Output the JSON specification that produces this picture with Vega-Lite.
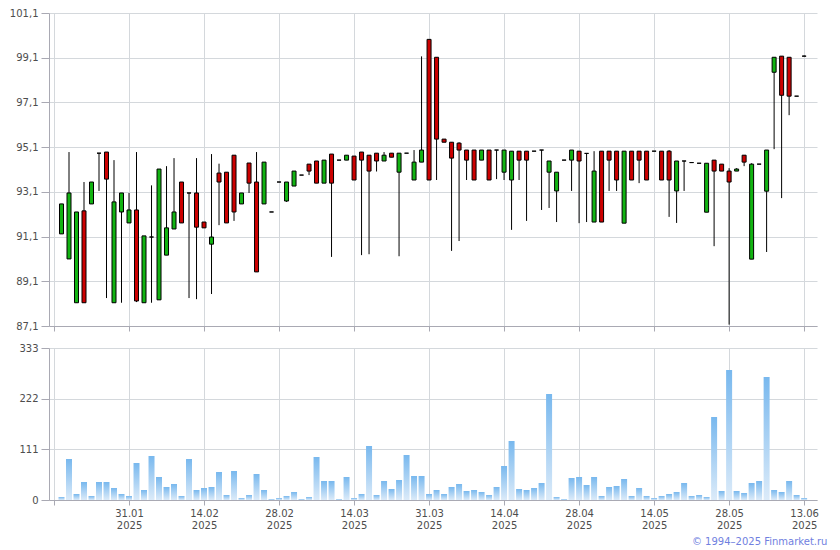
{
  "$schema": "https://vega.github.io/schema/vega-lite/v6.json",
  "padding": {"left": 1, "top": 8, "right": 5, "bottom": 5},
  "background": "white",
  "config": {
    "view": {"stroke": null},
    "font": "DejaVu Sans",
    "axis": {
      "title": null,
      "gridColor": "#d4d8dc",
      "gridWidth": 1,
      "domainColor": "#a9a9b3",
      "tickColor": "#a9a9b3",
      "labelColor": "#4d4d4d",
      "labelFont": "DejaVu Sans",
      "labelFontSize": 10,
      "labelOverlap": false,
      "labelFlush": false
    },
    "axisY": {"minExtent": 48, "maxExtent": 48, "tickSize": 8, "labelPadding": 3}
  },
  "data": {
    "values": [
      {"n": 1, "o": 91.22, "h": 92.56, "l": 91.22, "c": 92.56, "v": 6.6},
      {"n": 2, "o": 90.1, "h": 94.88, "l": 90.1, "c": 93.05, "v": 89.8},
      {"n": 3, "o": 88.14, "h": 92.2, "l": 88.14, "c": 92.2, "v": 13.1},
      {"n": 4, "o": 92.25, "h": 93.54, "l": 88.14, "c": 88.14, "v": 39.4},
      {"n": 5, "o": 92.56, "h": 93.54, "l": 92.56, "c": 93.54, "v": 8.8},
      {"n": 6, "o": 94.83, "h": 94.83, "l": 93.14, "c": 94.83, "v": 39.4},
      {"n": 7, "o": 94.88, "h": 94.88, "l": 88.35, "c": 93.67, "v": 39.4},
      {"n": 8, "o": 88.14, "h": 94.52, "l": 88.14, "c": 92.65, "v": 26.3},
      {"n": 9, "o": 92.2, "h": 93.05, "l": 88.14, "c": 93.05, "v": 13.1},
      {"n": 10, "o": 91.71, "h": 93.05, "l": 91.71, "c": 92.29, "v": 8.8},
      {"n": 11, "o": 92.29, "h": 94.88, "l": 88.17, "c": 88.22, "v": 81.1},
      {"n": 12, "o": 88.14, "h": 91.13, "l": 88.14, "c": 91.13, "v": 21.9},
      {"n": 13, "o": 91.08, "h": 93.39, "l": 88.14, "c": 91.08, "v": 96.4},
      {"n": 14, "o": 88.27, "h": 94.12, "l": 88.27, "c": 94.12, "v": 50.4},
      {"n": 15, "o": 90.27, "h": 94.25, "l": 90.27, "c": 91.49, "v": 28.5},
      {"n": 16, "o": 91.44, "h": 94.61, "l": 91.44, "c": 92.2, "v": 35.1},
      {"n": 17, "o": 93.54, "h": 93.54, "l": 91.71, "c": 91.71, "v": 8.8},
      {"n": 18, "o": 93.05, "h": 93.05, "l": 88.35, "c": 93.05, "v": 89.8},
      {"n": 19, "o": 93.05, "h": 94.61, "l": 88.3, "c": 91.52, "v": 21.9},
      {"n": 20, "o": 91.75, "h": 91.75, "l": 91.49, "c": 91.49, "v": 26.3},
      {"n": 21, "o": 90.76, "h": 94.79, "l": 88.53, "c": 91.08, "v": 28.5},
      {"n": 22, "o": 93.94, "h": 94.36, "l": 91.61, "c": 93.54, "v": 61.3},
      {"n": 23, "o": 93.98, "h": 93.98, "l": 91.71, "c": 91.71, "v": 11.0},
      {"n": 24, "o": 94.74, "h": 94.74, "l": 91.8, "c": 92.2, "v": 63.5},
      {"n": 25, "o": 92.56, "h": 93.05, "l": 92.56, "c": 93.05, "v": 4.4},
      {"n": 26, "o": 94.39, "h": 94.39, "l": 93.05, "c": 93.49, "v": 11.0},
      {"n": 27, "o": 93.54, "h": 94.88, "l": 89.52, "c": 89.52, "v": 57.0},
      {"n": 28, "o": 92.56, "h": 94.43, "l": 92.56, "c": 94.43, "v": 21.9},
      {"n": 29, "o": 92.2, "h": 92.2, "l": 92.2, "c": 92.2, "v": 2.2},
      {"n": 30, "o": 93.54, "h": 93.54, "l": 93.54, "c": 93.54, "v": 4.4},
      {"n": 31, "o": 92.69, "h": 93.54, "l": 92.65, "c": 93.54, "v": 8.8},
      {"n": 32, "o": 93.36, "h": 94.03, "l": 93.36, "c": 94.03, "v": 17.5},
      {"n": 33, "o": 93.85, "h": 93.85, "l": 93.85, "c": 93.85, "v": 2.2},
      {"n": 34, "o": 94.34, "h": 94.34, "l": 93.85, "c": 94.03, "v": 6.6},
      {"n": 35, "o": 94.48, "h": 94.48, "l": 93.49, "c": 93.49, "v": 94.2},
      {"n": 36, "o": 93.49, "h": 94.52, "l": 93.49, "c": 94.52, "v": 41.6},
      {"n": 37, "o": 94.79, "h": 94.79, "l": 90.19, "c": 93.49, "v": 41.6},
      {"n": 38, "o": 94.52, "h": 94.52, "l": 94.52, "c": 94.52, "v": 2.2},
      {"n": 39, "o": 94.52, "h": 94.74, "l": 94.52, "c": 94.74, "v": 50.4},
      {"n": 40, "o": 94.7, "h": 94.7, "l": 93.63, "c": 93.63, "v": 4.4},
      {"n": 41, "o": 94.88, "h": 94.88, "l": 90.27, "c": 94.52, "v": 13.1},
      {"n": 42, "o": 94.74, "h": 94.74, "l": 90.31, "c": 94.03, "v": 118.3},
      {"n": 43, "o": 94.83, "h": 94.83, "l": 94.01, "c": 94.48, "v": 11.0},
      {"n": 44, "o": 94.48, "h": 94.88, "l": 94.48, "c": 94.74, "v": 41.6},
      {"n": 45, "o": 94.83, "h": 94.83, "l": 94.65, "c": 94.65, "v": 24.1},
      {"n": 46, "o": 93.98, "h": 94.83, "l": 90.22, "c": 94.83, "v": 43.8},
      {"n": 47, "o": 94.83, "h": 94.83, "l": 94.83, "c": 94.83, "v": 98.6},
      {"n": 48, "o": 93.63, "h": 94.97, "l": 93.63, "c": 94.43, "v": 52.6},
      {"n": 49, "o": 94.43, "h": 99.16, "l": 94.43, "c": 94.97, "v": 52.6},
      {"n": 50, "o": 99.92, "h": 99.92, "l": 93.63, "c": 93.63, "v": 13.1},
      {"n": 51, "o": 99.12, "h": 99.12, "l": 93.63, "c": 95.46, "v": 21.9},
      {"n": 52, "o": 95.46, "h": 95.46, "l": 95.32, "c": 95.32, "v": 13.1},
      {"n": 53, "o": 95.32, "h": 95.32, "l": 90.46, "c": 94.61, "v": 28.5},
      {"n": 54, "o": 95.28, "h": 95.32, "l": 90.9, "c": 94.97, "v": 35.1},
      {"n": 55, "o": 94.97, "h": 94.97, "l": 93.63, "c": 94.52, "v": 19.7},
      {"n": 56, "o": 94.97, "h": 94.97, "l": 93.63, "c": 93.63, "v": 21.9},
      {"n": 57, "o": 94.52, "h": 94.97, "l": 94.52, "c": 94.97, "v": 17.5},
      {"n": 58, "o": 94.97, "h": 94.97, "l": 93.63, "c": 93.63, "v": 11.0},
      {"n": 59, "o": 94.97, "h": 94.97, "l": 93.67, "c": 94.97, "v": 28.5},
      {"n": 60, "o": 93.98, "h": 94.97, "l": 93.63, "c": 94.97, "v": 74.5},
      {"n": 61, "o": 93.63, "h": 94.92, "l": 91.4, "c": 94.92, "v": 129.3},
      {"n": 62, "o": 94.92, "h": 94.92, "l": 93.63, "c": 94.52, "v": 24.1},
      {"n": 63, "o": 94.92, "h": 94.92, "l": 91.8, "c": 94.52, "v": 21.9},
      {"n": 64, "o": 94.92, "h": 94.92, "l": 94.92, "c": 94.92, "v": 26.3},
      {"n": 65, "o": 94.97, "h": 94.97, "l": 92.29, "c": 94.97, "v": 37.2},
      {"n": 66, "o": 93.98, "h": 94.48, "l": 92.38, "c": 94.48, "v": 232.2},
      {"n": 67, "o": 93.14, "h": 93.98, "l": 91.75, "c": 93.98, "v": 6.6},
      {"n": 68, "o": 94.52, "h": 94.52, "l": 94.52, "c": 94.52, "v": 2.2},
      {"n": 69, "o": 94.52, "h": 94.97, "l": 93.14, "c": 94.97, "v": 48.2},
      {"n": 70, "o": 94.92, "h": 94.92, "l": 91.7, "c": 94.48, "v": 50.4},
      {"n": 71, "o": 94.82, "h": 94.82, "l": 91.75, "c": 94.82, "v": 32.9},
      {"n": 72, "o": 91.75, "h": 94.92, "l": 91.75, "c": 94.03, "v": 50.4},
      {"n": 73, "o": 94.92, "h": 94.92, "l": 91.75, "c": 91.75, "v": 8.8},
      {"n": 74, "o": 94.92, "h": 94.92, "l": 93.14, "c": 94.52, "v": 28.5},
      {"n": 75, "o": 94.92, "h": 94.92, "l": 93.14, "c": 93.63, "v": 30.7},
      {"n": 76, "o": 91.7, "h": 94.92, "l": 91.7, "c": 94.92, "v": 46.0},
      {"n": 77, "o": 94.92, "h": 94.92, "l": 93.63, "c": 93.63, "v": 8.8},
      {"n": 78, "o": 94.92, "h": 94.92, "l": 93.49, "c": 94.52, "v": 26.3},
      {"n": 79, "o": 94.92, "h": 94.92, "l": 93.63, "c": 93.63, "v": 8.8},
      {"n": 80, "o": 94.92, "h": 94.92, "l": 94.92, "c": 94.92, "v": 4.4},
      {"n": 81, "o": 94.92, "h": 94.92, "l": 93.63, "c": 93.63, "v": 8.8},
      {"n": 82, "o": 94.92, "h": 94.97, "l": 91.98, "c": 93.63, "v": 13.1},
      {"n": 83, "o": 93.14, "h": 94.48, "l": 91.71, "c": 94.48, "v": 17.5},
      {"n": 84, "o": 94.48, "h": 94.48, "l": 93.14, "c": 94.48, "v": 37.2},
      {"n": 85, "o": 94.41, "h": 94.43, "l": 94.41, "c": 94.41, "v": 8.8},
      {"n": 86, "o": 94.38, "h": 94.38, "l": 94.38, "c": 94.38, "v": 11.0},
      {"n": 87, "o": 92.19, "h": 94.38, "l": 92.19, "c": 94.38, "v": 6.6},
      {"n": 88, "o": 94.52, "h": 94.52, "l": 90.67, "c": 94.03, "v": 181.8},
      {"n": 89, "o": 94.34, "h": 94.34, "l": 94.03, "c": 94.03, "v": 19.7},
      {"n": 90, "o": 94.03, "h": 94.16, "l": 87.16, "c": 93.54, "v": 284.8},
      {"n": 91, "o": 94.03, "h": 94.16, "l": 94.03, "c": 94.12, "v": 19.7},
      {"n": 92, "o": 94.74, "h": 94.74, "l": 94.25, "c": 94.43, "v": 15.3},
      {"n": 93, "o": 90.09, "h": 94.38, "l": 90.09, "c": 94.34, "v": 37.2},
      {"n": 94, "o": 94.34, "h": 94.34, "l": 94.34, "c": 94.34, "v": 41.6},
      {"n": 95, "o": 93.13, "h": 94.97, "l": 90.41, "c": 94.97, "v": 269.5},
      {"n": 96, "o": 98.45, "h": 99.12, "l": 95.01, "c": 99.12, "v": 21.9},
      {"n": 97, "o": 99.17, "h": 99.17, "l": 92.82, "c": 97.42, "v": 17.5},
      {"n": 98, "o": 99.12, "h": 99.12, "l": 96.53, "c": 97.38, "v": 41.6},
      {"n": 99, "o": 97.38, "h": 97.38, "l": 97.38, "c": 97.38, "v": 11.0},
      {"n": 100, "o": 99.17, "h": 99.2, "l": 99.17, "c": 99.17, "v": 4.4}
    ]
  },
  "spacing": 11,
  "title": {
    "text": "© 1994–2025 Finmarket.ru",
    "orient": "bottom",
    "anchor": "end",
    "font": "DejaVu Sans",
    "fontSize": 10,
    "fontWeight": "normal",
    "color": "#7080e0",
    "offset": 7,
    "dx": 9
  },
  "vconcat": [
    {
      "width": 768,
      "height": 313,
      "encoding": {
        "x": {
          "field": "n",
          "type": "quantitative",
          "scale": {"domain": [0, 101.05], "nice": false, "zero": false},
          "axis": {"values": [0, 10, 20, 30, 40, 50, 60, 70, 80, 90, 100], "labels": false, "tickSize": 5, "grid": true}
        }
      },
      "layer": [
        {
          "mark": {"type": "rule", "color": "black", "strokeWidth": 1},
          "encoding": {
            "y": {
              "field": "l",
              "type": "quantitative",
              "scale": {"domain": [87.1, 101.1], "nice": false, "zero": false},
              "axis": {
                "values": [87.1, 89.1, 91.1, 93.1, 95.1, 97.1, 99.1, 101.1],
                "labelExpr": "replace(format(datum.value, '.1f'), '.', ',')",
                "grid": true
              }
            },
            "y2": {"field": "h"}
          }
        },
        {
          "mark": {"type": "bar", "width": 4, "stroke": "black", "strokeWidth": 1},
          "encoding": {
            "y": {"field": "o", "type": "quantitative"},
            "y2": {"field": "c"},
            "fill": {
              "condition": {"test": "datum.c >= datum.o", "value": "#12b312"},
              "value": "#cc0000"
            }
          }
        }
      ]
    },
    {
      "width": 768,
      "height": 152,
      "mark": {
        "type": "bar",
        "width": 6,
        "color": {
          "gradient": "linear",
          "x1": 0, "y1": 0, "x2": 0, "y2": 1,
          "stops": [
            {"offset": 0, "color": "#78b8ee"},
            {"offset": 1, "color": "#dcebf9"}
          ]
        }
      },
      "encoding": {
        "x": {
          "field": "n",
          "type": "quantitative",
          "scale": {"domain": [0, 101.05], "nice": false, "zero": false},
          "axis": {
            "values": [0, 10, 20, 30, 40, 50, 60, 70, 80, 90, 100],
            "tickSize": 5,
            "grid": true,
            "labelPadding": 3,
            "labelExpr": "datum.value == 0 ? '' : [['31.01','14.02','28.02','14.03','31.03','14.04','28.04','14.05','28.05','13.06'][datum.value / 10 - 1], '2025']"
          }
        },
        "y": {
          "field": "v",
          "type": "quantitative",
          "scale": {"domain": [0, 333], "nice": false},
          "axis": {"values": [0, 111, 222, 333], "grid": true}
        }
      }
    }
  ]
}
